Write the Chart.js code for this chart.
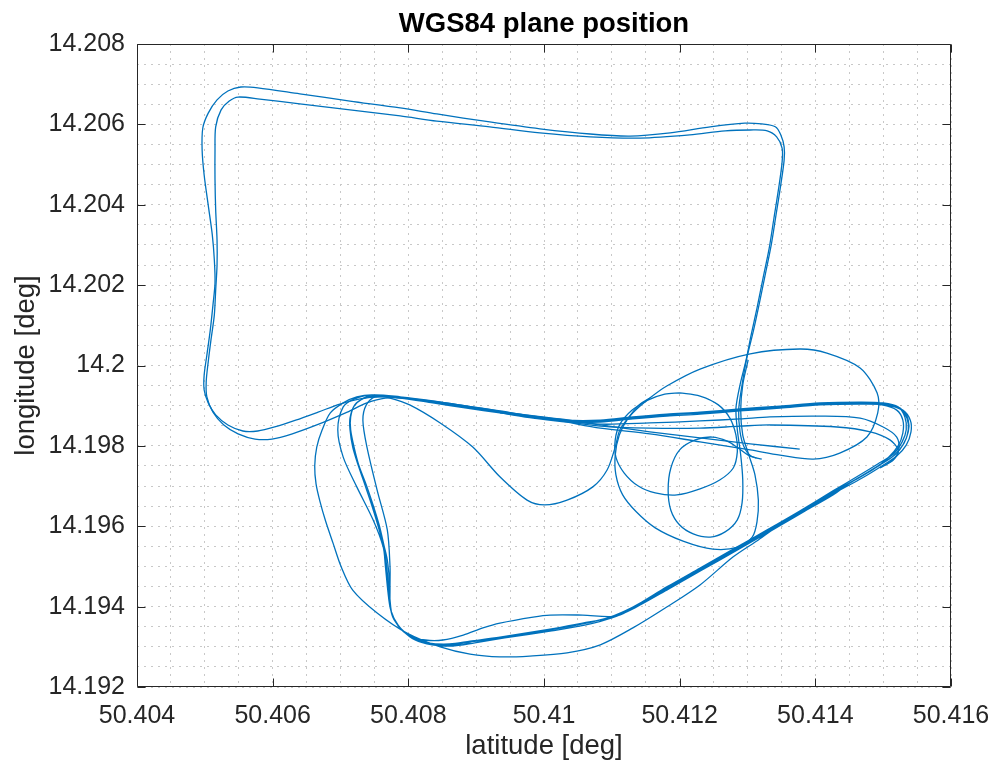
<!DOCTYPE html>
<html>
<head>
<meta charset="utf-8">
<title>WGS84 plane position</title>
<script src="https://cdn.jsdelivr.net/npm/chart.js@4.4.0/dist/chart.umd.min.js"></script>
<style>
  html, body { margin: 0; padding: 0; background: #fff; }
  #wrap { width: 1001px; height: 767px; position: relative; }
</style>
</head>
<body>
<div id="wrap"><canvas id="track"></canvas></div>
<script>
// axis ticks
const xTicks = [50.404, 50.406, 50.408, 50.41, 50.412, 50.414, 50.416];
const xTickLabels = ['50.404', '50.406', '50.408', '50.41', '50.412', '50.414', '50.416'];
const yTicks = [14.192, 14.194, 14.196, 14.198, 14.2, 14.202, 14.204, 14.206, 14.208];
const yTickLabels = ['14.192', '14.194', '14.196', '14.198', '14.2', '14.202', '14.204', '14.206', '14.208'];

// start line + first lap of the big rectangle
const rectALat = [50.41377, 50.41304, 50.41230, 50.41156, 50.41083, 50.41024, 50.40965, 50.40906, 50.40847, 50.40795,
  50.40758, 50.40729, 50.40699, 50.40667, 50.40634, 50.40603, 50.40578, 50.40556, 50.40534, 50.40516,
  50.40505, 50.40499, 50.40499, 50.40503, 50.40508, 50.40512, 50.40515, 50.40514, 50.40511, 50.40505,
  50.40499, 50.40496, 50.40497, 50.40505, 50.40518, 50.40534, 50.40553, 50.40578, 50.40640, 50.40714,
  50.40788, 50.40842, 50.40920, 50.40994, 50.41068, 50.41127, 50.41186, 50.41245, 50.41296, 50.41321,
  50.41341, 50.41349, 50.41354, 50.41354, 50.41349, 50.41342, 50.41335, 50.41326, 50.41317, 50.41308,
  50.41299, 50.41292, 50.41287, 50.41289, 50.41295, 50.41305, 50.41321];
const rectALon = [14.19792, 14.19805, 14.19820, 14.19835, 14.19852, 14.19867, 14.19879, 14.19894, 14.19909, 14.19919,
  14.19922, 14.19917, 14.19904, 14.19884, 14.19864, 14.19847, 14.19837, 14.19837, 14.19852, 14.19877,
  14.19907, 14.19939, 14.19976, 14.20026, 14.20088, 14.20151, 14.20205, 14.20263, 14.20325, 14.20399,
  14.20474, 14.20536, 14.20591, 14.20628, 14.20661, 14.20683, 14.20693, 14.20691, 14.20676, 14.20658,
  14.20641, 14.20626, 14.20606, 14.20589, 14.20576, 14.20571, 14.20579, 14.20594, 14.20603, 14.20601,
  14.20594, 14.20574, 14.20544, 14.20511, 14.20449, 14.20374, 14.20300, 14.20225, 14.20151, 14.20081,
  14.20019, 14.19952, 14.19889, 14.19835, 14.19797, 14.19775, 14.19767];

// second lap of the rectangle, ends with the small circle
const rectBLat = [50.40836, 50.40795, 50.40766, 50.40739, 50.40710, 50.40665, 50.40629, 50.40599, 50.40574, 50.40549,
  50.40528, 50.40512, 50.40503, 50.40502, 50.40505, 50.40509, 50.40514, 50.40516, 50.40518, 50.40518,
  50.40516, 50.40515, 50.40515, 50.40516, 50.40524, 50.40536, 50.40549, 50.40581, 50.40640, 50.40714,
  50.40788, 50.40842, 50.40920, 50.40994, 50.41068, 50.41142, 50.41215, 50.41267, 50.41304, 50.41329,
  50.41343, 50.41351, 50.41351, 50.41346, 50.41339, 50.41332, 50.41323, 50.41314, 50.41305, 50.41298,
  50.41289, 50.41283, 50.41285, 50.41290, 50.41293, 50.41292, 50.41285, 50.41267, 50.41245, 50.41220,
  50.41200, 50.41187, 50.41183, 50.41187, 50.41200, 50.41223, 50.41248, 50.41270, 50.41286, 50.41301, 50.41313];
const rectBLon = [14.19909, 14.19919, 14.19919, 14.19907, 14.19884, 14.19852, 14.19830, 14.19817, 14.19817, 14.19830,
  14.19852, 14.19884, 14.19922, 14.19959, 14.20009, 14.20063, 14.20126, 14.20188, 14.20250, 14.20312,
  14.20387, 14.20462, 14.20536, 14.20594, 14.20636, 14.20658, 14.20668, 14.20663, 14.20651, 14.20636,
  14.20621, 14.20608, 14.20594, 14.20579, 14.20569, 14.20566, 14.20574, 14.20584, 14.20586, 14.20584,
  14.20569, 14.20541, 14.20506, 14.20442, 14.20367, 14.20292, 14.20218, 14.20143, 14.20073, 14.20014,
  14.19952, 14.19894, 14.19840, 14.19777, 14.19715, 14.19658, 14.19616, 14.19586, 14.19573, 14.19581,
  14.19603, 14.19640, 14.19690, 14.19745, 14.19790, 14.19815, 14.19822, 14.19812, 14.19795, 14.19777, 14.19770];

// circuit laps (cluster -> east hook -> diagonal -> south -> back north)
const lap1Lat = [50.40748, 50.40788, 50.40836, 50.40886, 50.40935, 50.40984, 50.41034, 50.41083, 50.41131, 50.41181,
  50.41230, 50.41289, 50.41348, 50.41407, 50.41466, 50.41503, 50.41525, 50.41535, 50.41537, 50.41531,
  50.41517, 50.41495, 50.41466, 50.41426, 50.41377, 50.41329, 50.41279, 50.41230, 50.41181, 50.41131,
  50.41097, 50.41057, 50.41009, 50.40935, 50.40891, 50.40861, 50.40832, 50.40807, 50.40788, 50.40776,
  50.40772, 50.40770, 50.40767, 50.40763, 50.40755, 50.40746, 50.40736, 50.40726, 50.40718, 50.40714,
  50.40714, 50.40720, 50.40732, 50.40748];
const lap1Lon = [14.19927, 14.19919, 14.19909, 14.19897, 14.19884, 14.19872, 14.19862, 14.19862, 14.19869, 14.19877,
  14.19882, 14.19889, 14.19897, 14.19904, 14.19907, 14.19904, 14.19894, 14.19869, 14.19840, 14.19807,
  14.19777, 14.19752, 14.19723, 14.19685, 14.19636, 14.19588, 14.19541, 14.19494, 14.19446, 14.19399,
  14.19374, 14.19357, 14.19342, 14.19322, 14.19312, 14.19305, 14.19307, 14.19322, 14.19347, 14.19379,
  14.19422, 14.19466, 14.19516, 14.19553, 14.19603, 14.19653, 14.19703, 14.19752, 14.19797, 14.19840,
  14.19869, 14.19899, 14.19917, 14.19927];

const lap2Lat = [50.40788, 50.40836, 50.40886, 50.40935, 50.40984, 50.41034, 50.41083, 50.41131, 50.41181, 50.41230,
  50.41289, 50.41348, 50.41407, 50.41466, 50.41500, 50.41522, 50.41532, 50.41534, 50.41528, 50.41515,
  50.41492, 50.41463, 50.41426, 50.41377, 50.41329, 50.41279, 50.41230, 50.41181, 50.41142, 50.41108,
  50.41057, 50.41009, 50.40984, 50.40935, 50.40910, 50.40881, 50.40851, 50.40825, 50.40802, 50.40785,
  50.40774, 50.40773, 50.40773, 50.40769, 50.40754, 50.40739, 50.40733, 50.40738, 50.40751];
const lap2Lon = [14.19922, 14.19912, 14.19899, 14.19887, 14.19874, 14.19864, 14.19864, 14.19872, 14.19879, 14.19884,
  14.19892, 14.19899, 14.19907, 14.19909, 14.19907, 14.19897, 14.19872, 14.19840, 14.19810, 14.19780,
  14.19755, 14.19725, 14.19688, 14.19638, 14.19591, 14.19543, 14.19496, 14.19449, 14.19409, 14.19377,
  14.19379, 14.19379, 14.19374, 14.19359, 14.19347, 14.19329, 14.19317, 14.19317, 14.19327, 14.19352,
  14.19392, 14.19446, 14.19499, 14.19591, 14.19690, 14.19797, 14.19864, 14.19902, 14.19922];

const lap3Lat = [50.40788, 50.40836, 50.40886, 50.40935, 50.40984, 50.41034, 50.41083, 50.41131, 50.41181, 50.41230,
  50.41289, 50.41348, 50.41407, 50.41466, 50.41506, 50.41529, 50.41540, 50.41541, 50.41534, 50.41520,
  50.41498, 50.41469, 50.41429, 50.41380, 50.41332, 50.41282, 50.41233, 50.41184, 50.41134, 50.41100,
  50.41060, 50.41009, 50.40942, 50.40898, 50.40864, 50.40835, 50.40810, 50.40791, 50.40777, 50.40773,
  50.40772, 50.40769, 50.40764, 50.40757, 50.40748, 50.40738, 50.40727, 50.40720, 50.40715, 50.40715,
  50.40721, 50.40735, 50.40751];
const lap3Lon = [14.19919, 14.19907, 14.19894, 14.19882, 14.19869, 14.19859, 14.19859, 14.19867, 14.19874, 14.19879,
  14.19887, 14.19894, 14.19902, 14.19904, 14.19902, 14.19889, 14.19864, 14.19835, 14.19802, 14.19775,
  14.19750, 14.19720, 14.19683, 14.19633, 14.19586, 14.19538, 14.19491, 14.19444, 14.19397, 14.19372,
  14.19354, 14.19339, 14.19322, 14.19310, 14.19302, 14.19305, 14.19317, 14.19342, 14.19374, 14.19417,
  14.19466, 14.19516, 14.19553, 14.19603, 14.19653, 14.19703, 14.19752, 14.19797, 14.19840, 14.19872,
  14.19902, 14.19919, 14.19924];

const lap4Lat = [50.40788, 50.40836, 50.40886, 50.40935, 50.40984, 50.41034, 50.41083, 50.41131, 50.41181, 50.41230,
  50.41289, 50.41348, 50.41407, 50.41463, 50.41498, 50.41520, 50.41529, 50.41529, 50.41522, 50.41507,
  50.41484, 50.41451, 50.41426, 50.41392, 50.41352, 50.41316, 50.41279, 50.41230, 50.41181, 50.41131,
  50.41083, 50.41034, 50.40979, 50.40935, 50.40891, 50.40847, 50.40798, 50.40754, 50.40718, 50.40701,
  50.40689, 50.40678, 50.40670, 50.40664, 50.40662, 50.40665, 50.40673, 50.40685, 50.40704, 50.40724, 50.40748];
const lap4Lon = [14.19919, 14.19909, 14.19897, 14.19884, 14.19872, 14.19862, 14.19862, 14.19869, 14.19877, 14.19882,
  14.19889, 14.19897, 14.19904, 14.19907, 14.19902, 14.19889, 14.19864, 14.19832, 14.19800, 14.19770,
  14.19740, 14.19708, 14.19678, 14.19645, 14.19608, 14.19566, 14.19524, 14.19454, 14.19399, 14.19347,
  14.19305, 14.19285, 14.19277, 14.19275, 14.19282, 14.19300, 14.19334, 14.19384, 14.19441, 14.19499,
  14.19558, 14.19613, 14.19660, 14.19705, 14.19750, 14.19797, 14.19840, 14.19882, 14.19907, 14.19922, 14.19927];

const lap5Lat = [50.40788, 50.40836, 50.40886, 50.40935, 50.40984, 50.41034, 50.41083, 50.41131, 50.41181, 50.41230,
  50.41289, 50.41348, 50.41407, 50.41466, 50.41503, 50.41528, 50.41537, 50.41537, 50.41529, 50.41515,
  50.41492, 50.41463, 50.41426, 50.41377, 50.41329, 50.41279, 50.41230, 50.41181, 50.41131, 50.41097,
  50.41057, 50.41009, 50.40935, 50.40891, 50.40861, 50.40829, 50.40802, 50.40785, 50.40774, 50.40770,
  50.40766, 50.40763, 50.40748, 50.40724, 50.40704, 50.40696, 50.40704, 50.40721, 50.40748];
const lap5Lon = [14.19919, 14.19909, 14.19899, 14.19887, 14.19874, 14.19864, 14.19862, 14.19869, 14.19877, 14.19882,
  14.19889, 14.19897, 14.19904, 14.19907, 14.19902, 14.19889, 14.19864, 14.19835, 14.19802, 14.19775,
  14.19750, 14.19720, 14.19683, 14.19633, 14.19586, 14.19538, 14.19491, 14.19444, 14.19397, 14.19372,
  14.19359, 14.19344, 14.19324, 14.19314, 14.19307, 14.19310, 14.19327, 14.19354, 14.19392, 14.19436,
  14.19504, 14.19548, 14.19616, 14.19698, 14.19772, 14.19840, 14.19897, 14.19917, 14.19927];

// lap with the southern dip and the big eastern ellipse
const dipLat = [50.40773, 50.40802, 50.40847, 50.40895, 50.40935, 50.40975, 50.41001, 50.41034, 50.41072, 50.41093,
  50.41105, 50.41112, 50.41131, 50.41156, 50.41181, 50.41230, 50.41304, 50.41377, 50.41417, 50.41466,
  50.41491, 50.41492, 50.41476, 50.41436, 50.41397, 50.41348, 50.41304, 50.41230, 50.41156, 50.41083,
  50.41024, 50.40965, 50.40906, 50.40836, 50.40788, 50.40748];
const dipLon = [14.19919, 14.19902, 14.19857, 14.19797, 14.19723, 14.19665, 14.19653, 14.19665, 14.19698, 14.19740,
  14.19797, 14.19840, 14.19882, 14.19919, 14.19949, 14.19991, 14.20029, 14.20041, 14.20031, 14.19994,
  14.19932, 14.19882, 14.19822, 14.19782, 14.19767, 14.19777, 14.19790, 14.19810, 14.19830, 14.19844,
  14.19862, 14.19877, 14.19892, 14.19909, 14.19922, 14.19927];

// medium circle in the middle
const circleLat = [50.41200, 50.41230, 50.41257, 50.41274, 50.41283, 50.41285, 50.41279, 50.41259, 50.41230, 50.41196,
  50.41164, 50.41139, 50.41118, 50.41106, 50.41105, 50.41112, 50.41130, 50.41153, 50.41178, 50.41200];
const circleLon = [14.19932, 14.19924, 14.19902, 14.19869, 14.19827, 14.19785, 14.19745, 14.19715, 14.19693, 14.19678,
  14.19683, 14.19700, 14.19733, 14.19772, 14.19815, 14.19854, 14.19889, 14.19914, 14.19929, 14.19932];

// loop around the circle, joins the rectangle's east side
const loopLat = [50.41156, 50.41142, 50.41124, 50.41111, 50.41105, 50.41106, 50.41116, 50.41136, 50.41164, 50.41205,
  50.41249, 50.41286, 50.41307, 50.41314, 50.41316, 50.41311, 50.41302, 50.41293, 50.41290, 50.41293, 50.41301];
const loopLon = [14.19919, 14.19904, 14.19869, 14.19827, 14.19777, 14.19728, 14.19678, 14.19636, 14.19596, 14.19563,
  14.19543, 14.19548, 14.19573, 14.19611, 14.19665, 14.19728, 14.19777, 14.19827, 14.19889, 14.19952, 14.20014];

// two wider turns into the east hook
const hookALat = [50.40935, 50.41024, 50.41083, 50.41156, 50.41230, 50.41289, 50.41333, 50.41407, 50.41466, 50.41500,
  50.41520, 50.41523, 50.41515, 50.41495];
const hookALon = [14.19882, 14.19864, 14.19854, 14.19857, 14.19862, 14.19867, 14.19872, 14.19874, 14.19869, 14.19847,
  14.19822, 14.19790, 14.19765, 14.19745];
const hookBLat = [50.41024, 50.41083, 50.41156, 50.41230, 50.41289, 50.41333, 50.41432, 50.41481, 50.41510, 50.41522,
  50.41517, 50.41503];
const hookBLon = [14.19862, 14.19849, 14.19844, 14.19844, 14.19849, 14.19852, 14.19847, 14.19835, 14.19815, 14.19790,
  14.19770, 14.19752];

const LINE = '#0072BD';
const INK = '#262626';
const FONT = '"Liberation Sans", Arial, sans-serif';

function toPoints(lat, lon) {
  const pts = [];
  for (let i = 0; i < Math.min(lat.length, lon.length); i++) {
    pts.push({ x: lat[i], y: lon[i] });
  }
  return pts;
}

function track(lat, lon) {
  return {
    data: toPoints(lat, lon),
    showLine: true,
    borderColor: LINE,
    borderWidth: 1.3,
    pointRadius: 0,
    tension: 0.3,
    fill: false
  };
}

// dotted grid every 0.0005 deg, labels only on the major ticks
function gridTicks(scale) {
  const out = [];
  const n = Math.round((scale.max - scale.min) / 0.0005);
  for (let i = 0; i <= n; i++) out.push({ value: scale.min + i * 0.0005 });
  scale.ticks = out;
}

function majorLabel(values, labels) {
  return function (v) {
    for (let i = 0; i < values.length; i++) {
      if (Math.abs(v - values[i]) < 1e-7) return labels[i];
    }
    return '';
  };
}

// box round the axes, inward ticks and the title
const frame = {
  id: 'frame',
  afterDraw(chart) {
    const ctx = chart.ctx, a = chart.chartArea;
    const x = chart.scales.x, y = chart.scales.y;
    const L = Math.round(a.left) + 0.5, R = Math.round(a.right) - 0.5;
    const T = Math.round(a.top) + 0.5, B = Math.round(a.bottom) - 0.5;
    ctx.save();
    ctx.strokeStyle = INK;
    ctx.lineWidth = 1;
    ctx.beginPath();
    ctx.rect(L, T, R - L, B - T);
    xTicks.forEach(function (v) {
      const p = Math.round(x.getPixelForValue(v)) + 0.5;
      ctx.moveTo(p, B); ctx.lineTo(p, B - 8);
      ctx.moveTo(p, T); ctx.lineTo(p, T + 8);
    });
    yTicks.forEach(function (v) {
      const p = Math.round(y.getPixelForValue(v)) + 0.5;
      ctx.moveTo(L, p); ctx.lineTo(L + 8, p);
      ctx.moveTo(R, p); ctx.lineTo(R - 8, p);
    });
    ctx.stroke();

    ctx.fillStyle = '#000';
    ctx.font = 'bold 27.5px ' + FONT;
    ctx.textAlign = 'center';
    ctx.textBaseline = 'alphabetic';
    ctx.fillText('WGS84 plane position', (a.left + a.right) / 2, 32);
    ctx.restore();
  }
};

const circuitLat = [].concat(lap1Lat, lap2Lat, lap3Lat, lap4Lat, lap5Lat, dipLat);
const circuitLon = [].concat(lap1Lon, lap2Lon, lap3Lon, lap4Lon, lap5Lon, dipLon);

new Chart(document.getElementById('track'), {
  type: 'scatter',
  data: {
    datasets: [
      track(rectALat, rectALon),
      track(rectBLat, rectBLon),
      track(circuitLat, circuitLon),
      track(circleLat, circleLon),
      track(loopLat, loopLon),
      track(hookALat, hookALon),
      track(hookBLat, hookBLon)
    ]
  },
  options: {
    responsive: true,
    maintainAspectRatio: false,
    animation: false,
    layout: { padding: { top: 44, right: 50, bottom: 0, left: 0 } },
    plugins: {
      legend: { display: false },
      tooltip: { enabled: false },
      title: { display: false }
    },
    scales: {
      x: {
        type: 'linear',
        min: 50.404,
        max: 50.416,
        afterBuildTicks: gridTicks,
        afterFit: function (s) { s.height = 80; s.paddingLeft = 0; s.paddingRight = 0; },
        grid: { color: '#c8c8c8', lineWidth: 1, drawTicks: false },
        border: { display: false, dash: [2, 5] },
        ticks: {
          autoSkip: false, maxRotation: 0, minRotation: 0, padding: 14,
          color: INK, font: { family: FONT, size: 25 },
          callback: majorLabel(xTicks, xTickLabels)
        },
        title: {
          display: true, text: 'latitude [deg]', color: INK,
          font: { family: FONT, size: 27.5 }, padding: { top: 0, bottom: 4 }
        }
      },
      y: {
        type: 'linear',
        min: 14.192,
        max: 14.208,
        afterBuildTicks: gridTicks,
        afterFit: function (s) { s.width = 137; s.paddingTop = 0; s.paddingBottom = 0; },
        grid: { color: '#c8c8c8', lineWidth: 1, drawTicks: false },
        border: { display: false, dash: [2, 5] },
        ticks: {
          autoSkip: false, padding: 12,
          color: INK, font: { family: FONT, size: 25 },
          callback: majorLabel(yTicks, yTickLabels)
        },
        title: {
          display: true, text: 'longitude [deg]', color: INK,
          font: { family: FONT, size: 27.5 }, padding: { top: 10, bottom: 0 }
        }
      }
    }
  },
  plugins: [frame]
});
</script>
</body>
</html>
